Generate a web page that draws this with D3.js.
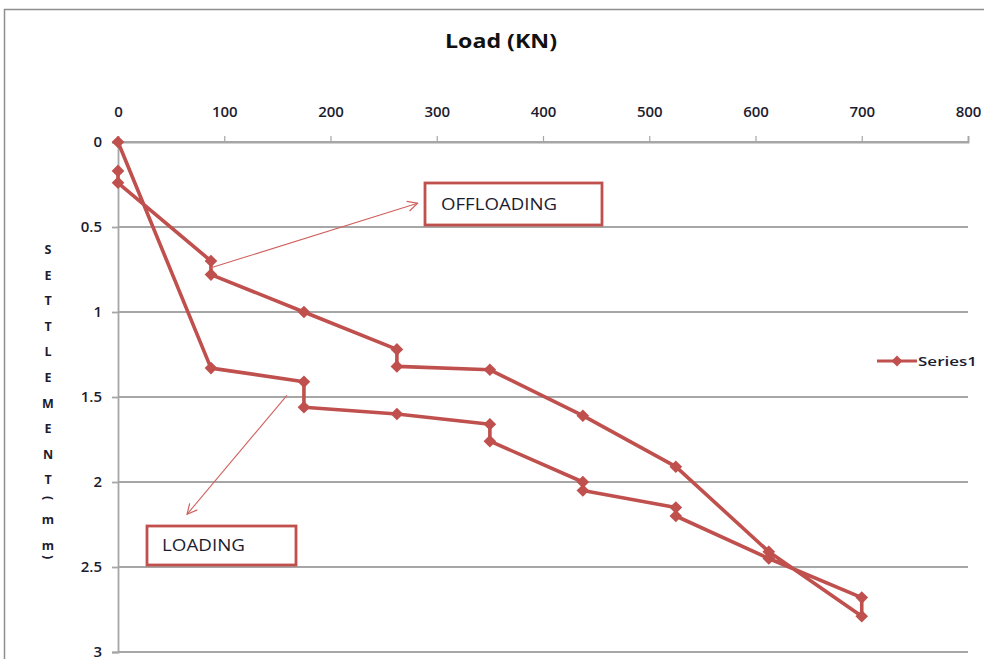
<!DOCTYPE html>
<html>
<head>
<meta charset="utf-8">
<script src="https://cdn.jsdelivr.net/npm/d3@7/dist/d3.min.js"></script>
<style>
  html, body { margin: 0; padding: 0; background: #fff; }
  svg { display: block; }
</style>
</head>
<body>
<svg id="chart" width="984" height="659"></svg>
<script>
// Pile load test: load (kN) against settlement (mm), loading then unloading
const loadKN = [0, 87.5, 175, 175, 262.5, 350, 350, 437.5, 437.5, 525, 525, 612.5, 700, 700,
                612.5, 525, 437.5, 350, 262.5, 262.5, 175, 87.5, 87.5, 0, 0];
const settlementMM = [0, 1.33, 1.41, 1.56, 1.6, 1.66, 1.76, 2.0, 2.05, 2.15, 2.2, 2.45, 2.68, 2.79,
                      2.41, 1.91, 1.61, 1.34, 1.32, 1.22, 1.0, 0.78, 0.7, 0.24, 0.17];
const xTicks = [0, 100, 200, 300, 400, 500, 600, 700, 800];
const yTicks = [0, 0.5, 1, 1.5, 2, 2.5, 3];
const seriesName = "Series1";
const titleText = "Load (KN)";
const yLabelChars = ["S", "E", "T", "T", "L", "E", "M", "E", "N", "T", "(", "m", "m", ")"];
const notes = ["OFFLOADING", "LOADING"];

const points = loadKN.map((v, i) => ({ load: v, s: settlementMM[i] }));

const red = "#c0504d";
const grid = "#a6a6a6";
const ink = "#1c1c30";
const font = "'Open Sans', Lato, sans-serif";

const svg = d3.select("#chart");

// chart frame
svg.append("rect")
  .attr("x", 4.5).attr("y", 9.5)
  .attr("width", 1000).attr("height", 700)
  .attr("fill", "#fff").attr("stroke", "#8e8e8e").attr("stroke-width", 1.5);

const x = d3.scaleLinear().domain([0, 800]).range([118, 968]);
const y = d3.scaleLinear().domain([0, 3]).range([142, 652]);

// horizontal gridlines
svg.append("g").selectAll("line").data(yTicks).join("line")
  .attr("x1", x(0)).attr("x2", x(800))
  .attr("y1", d => y(d)).attr("y2", d => y(d))
  .attr("stroke", grid).attr("stroke-width", 1.8);

// top axis (load)
const xAxis = svg.append("g")
  .attr("transform", `translate(0,${y(0)})`)
  .call(d3.axisTop(x).tickValues(xTicks).tickSize(6).tickPadding(19).tickFormat(d3.format("d")));
xAxis.select(".domain").attr("stroke", grid).attr("stroke-width", 1.8);
xAxis.selectAll(".tick line").attr("stroke", grid).attr("stroke-width", 1.2);
xAxis.selectAll("text")
  .attr("fill", ink).attr("font-family", font)
  .attr("font-size", 15).attr("font-weight", 600);

// left axis (settlement)
const yAxis = svg.append("g")
  .attr("transform", `translate(${x(0)},0)`)
  .call(d3.axisLeft(y).tickValues(yTicks).tickSize(6).tickPadding(10).tickFormat(d3.format("~g")));
yAxis.select(".domain").attr("stroke", grid).attr("stroke-width", 1.8);
yAxis.selectAll(".tick line").attr("stroke", grid).attr("stroke-width", 1.8);
yAxis.selectAll("text")
  .attr("fill", ink).attr("font-family", font)
  .attr("font-size", 15).attr("font-weight", 600);

// title
svg.append("text")
  .attr("x", 445).attr("y", 48)
  .attr("font-family", font)
  .attr("font-size", 19).attr("font-weight", 700).attr("fill", "#111")
  .attr("textLength", 112).attr("lengthAdjust", "spacingAndGlyphs")
  .text(titleText);

// stacked vertical axis title
let ly = 254;
const yl = svg.append("g")
  .attr("font-family", font)
  .attr("font-size", 12.5).attr("font-weight", 700).attr("fill", ink);
yLabelChars.forEach((c) => {
  if (c === "(") {
    yl.append("text")
      .attr("transform", `translate(48,${ly - 12}) rotate(90)`)
      .attr("text-anchor", "middle").attr("dy", "0.35em")
      .text(c);
    ly += 14;
  } else if (c === ")") {
    yl.append("text")
      .attr("transform", `translate(48,${ly - 18}) rotate(90)`)
      .attr("text-anchor", "middle").attr("dy", "0.35em")
      .text(c);
  } else {
    yl.append("text")
      .attr("x", 48).attr("y", ly)
      .attr("text-anchor", "middle")
      .text(c);
    ly += 25.6;
  }
});

// series line
const line = d3.line().x(d => x(d.load)).y(d => y(d.s));
svg.append("path")
  .datum(points)
  .attr("d", line)
  .attr("fill", "none").attr("stroke", red)
  .attr("stroke-width", 3.6).attr("stroke-linejoin", "round");

// diamond markers
const diamond = d3.symbol().type(d3.symbolSquare).size(80);
svg.append("g").selectAll("path").data(points).join("path")
  .attr("d", diamond)
  .attr("transform", d => `translate(${x(d.load)},${y(d.s)}) rotate(45)`)
  .attr("fill", red);

// legend
const lg = svg.append("g").attr("transform", "translate(877,361)");
lg.append("line").attr("x1", 0).attr("x2", 40).attr("y1", 0).attr("y2", 0)
  .attr("stroke", red).attr("stroke-width", 3.2);
lg.append("path").attr("d", d3.symbol().type(d3.symbolSquare).size(60)())
  .attr("transform", "translate(20,0) rotate(45)").attr("fill", red);
lg.append("text").attr("x", 41).attr("y", 0).attr("dy", "0.35em")
  .attr("font-family", font).attr("font-size", 13).attr("font-weight", 600)
  .attr("fill", ink).attr("textLength", 59).attr("lengthAdjust", "spacingAndGlyphs")
  .text(seriesName);

// annotation arrows
const defs = svg.append("defs");
defs.append("marker")
  .attr("id", "openArrow").attr("viewBox", "0 0 12 12")
  .attr("refX", 11).attr("refY", 6)
  .attr("markerWidth", 12).attr("markerHeight", 12)
  .attr("markerUnits", "userSpaceOnUse").attr("orient", "auto")
  .append("path").attr("d", "M1,1 L11,6 L1,11")
  .attr("fill", "none").attr("stroke", "#d0625f").attr("stroke-width", 1.2);

const arrows = [
  { from: [87.5, 0.74], to: [282, 0.36] },
  { from: [159, 1.49], to: [65, 2.19] }
];
svg.append("g").selectAll("line").data(arrows).join("line")
  .attr("x1", d => x(d.from[0])).attr("y1", d => y(d.from[1]))
  .attr("x2", d => x(d.to[0])).attr("y2", d => y(d.to[1]))
  .attr("stroke", "#d0625f").attr("stroke-width", 1.1)
  .attr("marker-end", "url(#openArrow)");

// annotation boxes
const boxes = [
  { text: notes[0], x: 425, y: 183, w: 177, h: 42, tx: 441, len: 116 },
  { text: notes[1], x: 147, y: 526, w: 149, h: 39, tx: 162, len: 83 }
];
const bg = svg.append("g").selectAll("g").data(boxes).join("g");
bg.append("rect")
  .attr("x", d => d.x).attr("y", d => d.y)
  .attr("width", d => d.w).attr("height", d => d.h)
  .attr("fill", "#fff").attr("stroke", "#c0504d").attr("stroke-width", 2.8);
bg.append("text")
  .attr("x", d => d.tx).attr("y", d => d.y + d.h / 2).attr("dy", "0.36em")
  .attr("font-family", font).attr("font-size", 15.5)
  .attr("fill", ink).attr("textLength", d => d.len).attr("lengthAdjust", "spacingAndGlyphs")
  .text(d => d.text);
</script>
</body>
</html>
